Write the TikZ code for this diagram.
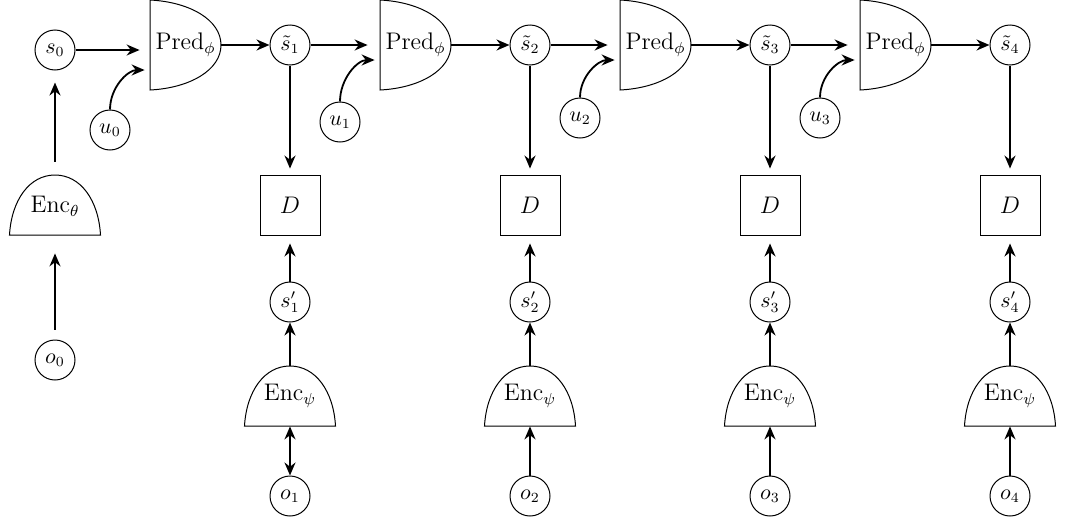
\documentclass[tikz,border=0pt]{standalone}
\usetikzlibrary{arrows.meta,calc}
\begin{document}
\begin{tikzpicture}[x=0.5pt,y=-0.5pt,
  circ/.style={circle,draw,line width=0.5pt,minimum size=20pt,inner sep=0pt,font=\fontsize{10.5}{12}\selectfont},
  dbox/.style={rectangle,draw,line width=0.45pt,minimum size=30pt,inner sep=0pt,font=\fontsize{12}{14}\selectfont},
  predbox/.style={rectangle,minimum width=35.5pt,minimum height=45pt,inner sep=0pt,font=\fontsize{11.7}{14}\selectfont},
  encbox/.style={rectangle,minimum width=45.5pt,minimum height=30pt,inner sep=0pt,font=\fontsize{12}{14}\selectfont},
  arr/.style={line width=0.9pt,-{Stealth[length=6.5pt,width=5.5pt]}},
  darr/.style={line width=0.9pt,{Stealth[length=6.5pt,width=5.5pt]}-{Stealth[length=6.5pt,width=5.5pt]}},
  predshape/.pic={\draw[line width=0.5pt] (-35.5,-45) .. controls (4.5,-43) and (35.5,-25) .. (35.5,0) .. controls (35.5,25) and (4.5,43) .. (-35.5,45) -- cycle;},
  encshape/.pic={\draw[line width=0.5pt] (-45.5,30) .. controls (-43.5,-5) and (-25.5,-30) .. (0,-30) .. controls (25.5,-30) and (43.5,-5) .. (45.5,30) -- cycle;}
]
\useasboundingbox (0,0) rectangle (1070,525);

% left column
\node[circ] (s0) at (55,50) {$s_0$};
\pic at (55,205) {encshape};
\node[encbox] (et) at (55,206) {$\mathrm{Enc}_\theta$};
\node[circ] (o0) at (55,360) {$o_0$};
\node[circ] (u0) at (110,130) {$u_0$};

% predictors
\foreach \i/\x in {1/185.5,2/415.5,3/655.5,4/895.5}{
  \pic at (\x,45) {predshape};
  \node[predbox] (p\i) at (\x,45) {$\mathrm{Pred}_\phi$};
}
\node[circ] (u1) at (340,122) {$u_1$};
\node[circ] (u2) at (580,118) {$u_2$};
\node[circ] (u3) at (820,118) {$u_3$};

% columns
\foreach \i/\x in {1/290,2/530,3/770,4/1010}{
  \node[circ] (t\i) at (\x,45) {$\tilde{s}_\i$};
  \node[dbox] (d\i) at (\x,205) {$D$};
  \node[circ] (sp\i) at (\x,302) {$s'_\i$};
  \pic at (\x,396) {encshape};
  \node[encbox] (e\i) at (\x,396) {$\mathrm{Enc}_\psi$};
  \node[circ] (o\i) at (\x,496) {$o_\i$};
}

% connectors
\draw[arr,shorten <=7pt,shorten >=6pt] (et.north) -- (s0);
\draw[arr,shorten <=5pt,shorten >=8.5pt] (o0) -- (et.south);
\draw[arr,shorten >=5pt] (s0) -- (p1.west |- s0);
\draw[arr,shorten >=2.5pt] (u0.north) to[out=90,in=180] ($(p1.west)+(0,25)$);
\draw[arr,shorten >=2.5pt] (u1.north) to[out=90,in=180] ($(p2.west)+(0,15)$);
\draw[arr,shorten >=2.5pt] (u2.north) to[out=90,in=180] ($(p3.west)+(0,15)$);
\draw[arr,shorten >=2.5pt] (u3.north) to[out=90,in=180] ($(p4.west)+(0,15)$);
\foreach \i in {1,2,3,4}{
  \draw[arr] (p\i.east) -- (t\i);
  \draw[arr,shorten >=3pt] (t\i) -- (d\i);
  \draw[arr,shorten >=4pt] (sp\i) -- (d\i);
  \draw[arr] (e\i.north) -- (sp\i);
}
\draw[arr,shorten >=6pt] (t1) -- (p2.west);
\draw[arr,shorten >=6pt] (t2) -- (p3.west);
\draw[arr,shorten >=6pt] (t3) -- (p4.west);
\draw[darr] (o1) -- (e1.south);
\draw[arr] (o2) -- (e2.south);
\draw[arr] (o3) -- (e3.south);
\draw[arr] (o4) -- (e4.south);
\end{tikzpicture}
\end{document}
